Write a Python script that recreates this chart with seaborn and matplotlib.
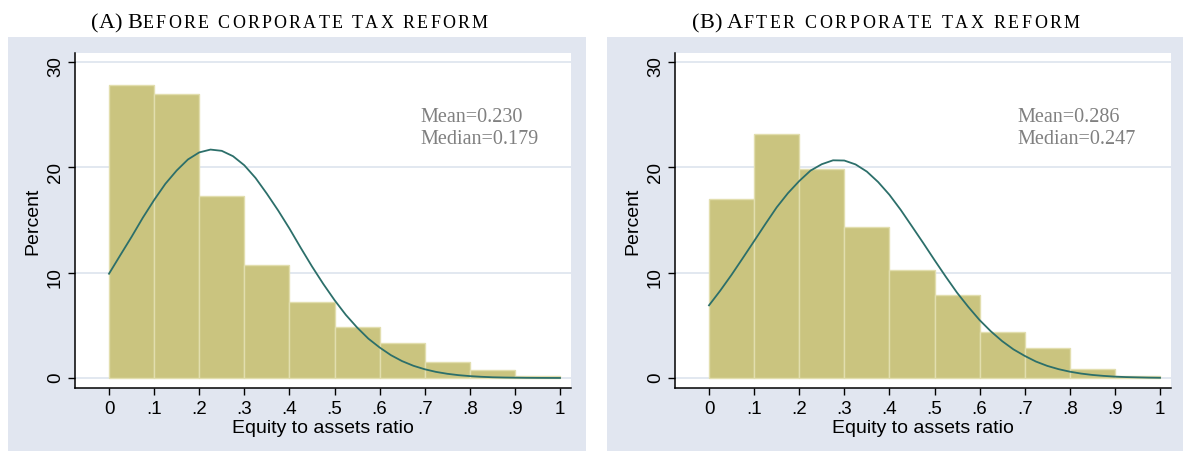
import matplotlib
matplotlib.use("Agg")
import matplotlib.pyplot as plt
import seaborn as sns
from matplotlib.patches import Rectangle
from matplotlib.font_manager import FontProperties, findfont, get_font

W, H, DPI = 1184, 452, 100

# histogram bins (equity to assets ratio) and bar heights in percent
BIN_EDGES = [0.0, 0.1, 0.2, 0.3, 0.4, 0.5, 0.6, 0.7, 0.8, 0.9, 1.0]
BEFORE_PCT = [27.8, 27.0, 17.3, 10.7, 7.2, 4.8, 3.3, 1.5, 0.8, 0.2]
AFTER_PCT = [17.0, 23.2, 19.8, 14.3, 10.3, 7.85, 4.4, 2.85, 0.85, 0.15]

# normal curve overlay
CURVE_X = [0.0, 0.025, 0.05, 0.075, 0.1, 0.125, 0.15, 0.175, 0.2, 0.225,
           0.25, 0.275, 0.3, 0.325, 0.35, 0.375, 0.4, 0.425, 0.45, 0.475,
           0.5, 0.525, 0.55, 0.575, 0.6, 0.625, 0.65, 0.675, 0.7, 0.725,
           0.75, 0.775, 0.8, 0.825, 0.85, 0.875, 0.9, 0.925, 0.95, 0.975, 1.0]
BEFORE_CURVE = [9.9, 11.66, 13.4, 15.22, 16.9, 18.44, 19.7, 20.75, 21.42, 21.69,
                21.57, 21.06, 20.2, 18.99, 17.5, 15.91, 14.2, 12.37, 10.6, 8.94,
                7.4, 6.0, 4.8, 3.74, 2.9, 2.17, 1.6, 1.16, 0.83, 0.58,
                0.40, 0.27, 0.18, 0.116, 0.07, 0.046, 0.03, 0.017, 0.01, 0.006, 0.003]
AFTER_CURVE = [6.9, 8.3, 9.8, 11.39, 13.0, 14.62, 16.2, 17.55, 18.7, 19.69,
               20.3, 20.67, 20.65, 20.28, 19.6, 18.61, 17.4, 15.97, 14.4, 12.82,
               11.2, 9.62, 8.1, 6.75, 5.5, 4.43, 3.5, 2.72, 2.1, 1.56,
               1.15, 0.84, 0.60, 0.42, 0.29, 0.20, 0.13, 0.086, 0.06, 0.035, 0.02]

BEFORE_STATS = ["Mean=0.230", "Median=0.179"]
AFTER_STATS = ["Mean=0.286", "Median=0.247"]

X_TICKS = [0, 0.1, 0.2, 0.3, 0.4, 0.5, 0.6, 0.7, 0.8, 0.9, 1.0]
X_TICK_LABELS = ["0", ".1", ".2", ".3", ".4", ".5", ".6", ".7", ".8", ".9", "1"]
Y_TICKS = [0, 10, 20, 30]

BG = "#E1E6F0"
BAR = "#CAC47F"
BAR_EDGE = "#E2DEAE"
CURVE = "#2C6F6A"
GRID = "#DDE4EE"
SERIF = "Liberation Serif"

plt.rcParams["font.family"] = ["Liberation Sans", "DejaVu Sans"]

fig = plt.figure(figsize=(W / DPI, H / DPI), dpi=DPI)
fig.patch.set_facecolor("white")


def px_box(x0, y0, x1, y1):
    return [x0 / W, 1 - y1 / H, (x1 - x0) / W, (y1 - y0) / H]


serif_path = findfont(FontProperties(family=SERIF))


def advance(ch, size):
    font = get_font(serif_path)
    font.set_size(size, DPI)
    return font.load_char(ord(ch)).linearHoriAdvance / 65536


def small_caps_title(big, small, center, base, width, big_size=16, small_size=13):
    # fake small caps: first letters full size, rest smaller capitals spread out
    big_adv = [advance(c, big_size) for c in big]
    small_adv = [advance(c, small_size) for c in small]
    extra = (width - sum(big_adv) - sum(small_adv)) / max(len(small) - 1, 1)
    x = center - width / 2
    for c, a in zip(big, big_adv):
        if c != " ":
            fig.text(x / W, 1 - base / H, c, fontsize=big_size, family=SERIF,
                     ha="left", va="baseline")
        x += a
    for c, a in zip(small, small_adv):
        if c != " ":
            fig.text(x / W, 1 - base / H, c, fontsize=small_size, family=SERIF,
                     ha="left", va="baseline")
        x += a + extra


def draw_panel(bg_box, ax_box, pct, curve, stats, stats_x):
    fig.add_artist(Rectangle((bg_box[0], bg_box[1]), bg_box[2], bg_box[3],
                             transform=fig.transFigure, facecolor=BG,
                             edgecolor="none", zorder=-5))
    ax = fig.add_axes(ax_box)
    ax.set_facecolor("white")
    mids = [(a + b) / 2 for a, b in zip(BIN_EDGES[:-1], BIN_EDGES[1:])]
    sns.histplot(x=mids, weights=pct, bins=BIN_EDGES, ax=ax, color=BAR,
                 alpha=1, edgecolor=BAR_EDGE, linewidth=1)
    sns.lineplot(x=CURVE_X, y=curve, ax=ax, color=CURVE, linewidth=1.3)

    ax.text(stats_x, 24.4, stats[0], family=SERIF, fontsize=14.5, color="#808080",
            ha="left", va="baseline")
    ax.text(stats_x, 22.3, stats[1], family=SERIF, fontsize=14.5, color="#808080",
            ha="left", va="baseline")

    ax.set_xlim(-0.0754, 1.0244)
    ax.set_ylim(-0.95, 30.86)
    ax.set_xticks(X_TICKS)
    ax.set_xticklabels(X_TICK_LABELS)
    ax.set_yticks(Y_TICKS)
    ax.set_axisbelow(True)
    ax.yaxis.grid(True, color=GRID, linewidth=1.2)
    ax.xaxis.grid(False)
    for side in ["top", "right"]:
        ax.spines[side].set_visible(False)
    for side in ["left", "bottom"]:
        ax.spines[side].set_color("black")
        ax.spines[side].set_linewidth(1.1)
    ax.tick_params(axis="both", length=5, width=1, color="black",
                   labelsize=13.5, pad=4)
    ax.tick_params(axis="y", labelrotation=90, pad=3)
    ax.set_xlabel("Equity to assets ratio", fontsize=14, labelpad=1)
    ax.set_ylabel("Percent", fontsize=14, labelpad=4)
    return ax


draw_panel(px_box(8, 38, 586, 452), px_box(75, 54, 571, 389),
           BEFORE_PCT, BEFORE_CURVE, BEFORE_STATS, 0.69)
draw_panel(px_box(607, 38, 1183, 452), px_box(675, 54, 1171, 389),
           AFTER_PCT, AFTER_CURVE, AFTER_STATS, 0.683)

small_caps_title("(A) B", "EFORE CORPORATE TAX REFORM", 289.5, 28.5, 397)
small_caps_title("(B) A", "FTER CORPORATE TAX REFORM", 886, 28.5, 388)

fig.savefig("out.png", dpi=DPI)
